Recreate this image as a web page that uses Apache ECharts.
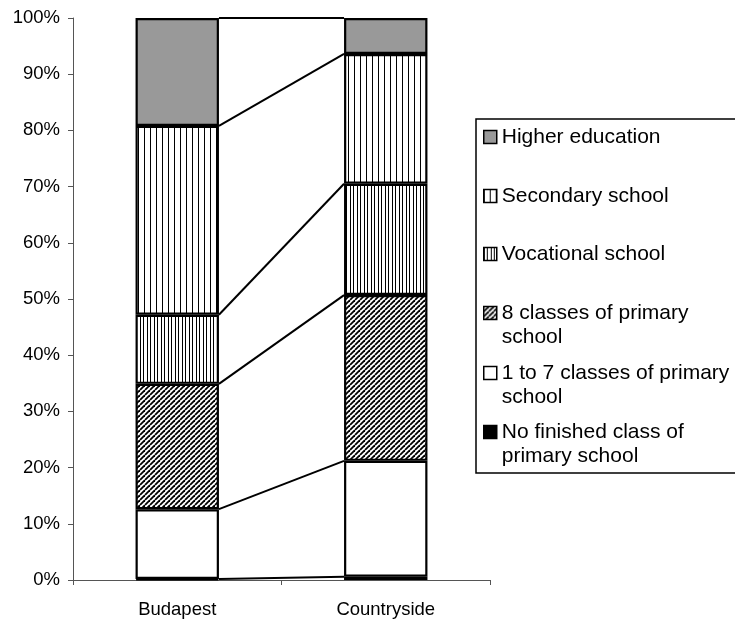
<!DOCTYPE html>
<html>
<head>
<meta charset="utf-8">
<style>
  html, body { margin: 0; padding: 0; background: #fff; }
  #chart { width: 735px; height: 621px; }
</style>
<script src="https://cdn.jsdelivr.net/npm/echarts@6/dist/echarts.min.js"></script>
</head>
<body>
<div id="chart"></div>
<script>
// Regions on the horizontal axis
const categories = ['Budapest', 'Countryside'];

// Education levels, bottom of the stack first
const levels = [
  'No finished class of primary school',
  '1 to 7 classes of primary school',
  '8 classes of primary school',
  'Vocational school',
  'Secondary school',
  'Higher education'
];

// Share of each level (%), per region
const budapestShares    = [0.2, 12.4, 22.3, 12.3, 33.6, 19.2];
const countrysideShares = [0.6, 20.6, 29.5, 19.8, 23.1, 6.4];

// Y axis ticks
const yTicks = [0, 10, 20, 30, 40, 50, 60, 70, 80, 90, 100];

// Legend labels as wrapped in the legend box
const legendLabels = {
  'Higher education': 'Higher education',
  'Secondary school': 'Secondary school',
  'Vocational school': 'Vocational school',
  '8 classes of primary school': '8 classes of primary\nschool',
  '1 to 7 classes of primary school': '1 to 7 classes of primary\nschool',
  'No finished class of primary school': 'No finished class of\nprimary school'
};

// ---- fill patterns ----
function makeCanvas(w, h, draw) {
  const c = document.createElement('canvas');
  c.width = w; c.height = h;
  const ctx = c.getContext('2d');
  ctx.fillStyle = '#fff';
  ctx.fillRect(0, 0, w, h);
  draw(ctx);
  return c;
}
const sparseVertical = makeCanvas(6, 6, ctx => {
  ctx.fillStyle = '#000';
  ctx.fillRect(0, 0, 1, 6);
});
const denseVertical = makeCanvas(7, 7, ctx => {
  ctx.fillStyle = '#000';
  ctx.fillRect(0, 0, 1, 7);
  ctx.fillRect(3, 0, 1, 7);
});
const diagonal = makeCanvas(5, 5, ctx => {
  ctx.strokeStyle = '#000';
  ctx.lineWidth = 1.8;
  for (const o of [-5, 0, 5]) {
    ctx.beginPath();
    ctx.moveTo(o, 5);
    ctx.lineTo(o + 5, 0);
    ctx.stroke();
  }
});

const fills = [
  '#000000',
  '#ffffff',
  { image: diagonal, repeat: 'repeat' },
  { image: denseVertical, repeat: 'repeat' },
  { image: sparseVertical, repeat: 'repeat' },
  '#999999'
];

// ---- stacked bars ----
const barSeries = levels.map((name, i) => ({
  name: name,
  type: 'bar',
  stack: 'total',
  barWidth: '40%',
  data: [budapestShares[i], countrysideShares[i]],
  itemStyle: { color: fills[i], borderColor: '#000', borderWidth: 2.2 },
  emphasis: { disabled: true },
  z: 2
}));

// Cumulative top of each level, used for connector lines between the columns
const connectorRows = [];
let cb = 0, cc = 0;
for (let i = 0; i < levels.length; i++) {
  cb += budapestShares[i];
  cc += countrysideShares[i];
  connectorRows.push([0, Math.min(cb, 100), Math.min(cc, 100)]);
}

const connectorSeries = {
  type: 'custom',
  name: 'connectors',
  silent: true,
  z: 5,
  encode: { x: 0, y: [1, 2] },
  data: connectorRows,
  renderItem: function (params, api) {
    const band = api.size([1, 0])[0];
    const half = band * 0.4 / 2;
    const p0 = api.coord([0, api.value(1)]);
    const p1 = api.coord([1, api.value(2)]);
    return {
      type: 'line',
      shape: { x1: p0[0] + half, y1: p0[1], x2: p1[0] - half, y2: p1[1] },
      style: { stroke: '#000', lineWidth: 2 }
    };
  }
};

// ---- legend entries (top-down order, each positioned on its own row) ----
// Two-line labels get a leading blank line so the swatch sits beside the first line.
const legendRows = [
  { name: 'Higher education', cy: 137 },
  { name: 'Secondary school', cy: 196 },
  { name: 'Vocational school', cy: 254 },
  { name: '8 classes of primary school', cy: 313 },
  { name: '1 to 7 classes of primary school', cy: 373 },
  { name: 'No finished class of primary school', cy: 432 }
];
const legends = legendRows.map(r => {
  const twoLines = legendLabels[r.name].indexOf('\n') >= 0;
  return {
    data: [r.name],
    orient: 'vertical',
    left: 483,
    top: twoLines ? r.cy - 36 : r.cy - 12,
    padding: 0,
    itemWidth: 13,
    itemHeight: 13,
    selectedMode: false,
    icon: 'rect',
    itemStyle: { borderColor: '#000', borderWidth: 1.5 },
    formatter: n => (twoLines ? '\n' : '') + legendLabels[n],
    textStyle: {
      fontFamily: 'Liberation Sans, Arial, sans-serif',
      fontSize: 21,
      color: '#000',
      lineHeight: 24
    }
  };
});

const chart = echarts.init(document.getElementById('chart'), null, { renderer: 'canvas' });
chart.setOption({
  animation: false,
  backgroundColor: '#fff',
  grid: { left: 73, right: 245, top: 18, bottom: 41, containLabel: false },
  legend: legends,
  graphic: [{
    type: 'rect',
    shape: { x: 476, y: 119, width: 270, height: 354 },
    style: { fill: 'none', stroke: '#000', lineWidth: 1.5 },
    z: 10,
    silent: true
  }],
  xAxis: {
    type: 'category',
    data: categories,
    boundaryGap: true,
    axisLine: { lineStyle: { color: '#555', width: 1 } },
    axisTick: { show: true, length: 5, inside: false, lineStyle: { color: '#555' } },
    axisLabel: {
      color: '#000',
      fontFamily: 'Liberation Sans, Arial, sans-serif',
      fontSize: 18.5,
      margin: 20
    },
    splitLine: { show: false }
  },
  yAxis: {
    type: 'value',
    min: yTicks[0],
    max: yTicks[yTicks.length - 1],
    interval: yTicks[1] - yTicks[0],
    axisLine: { show: true, lineStyle: { color: '#555', width: 1 } },
    axisTick: { show: true, length: 5, lineStyle: { color: '#555' } },
    axisLabel: {
      color: '#000',
      fontFamily: 'Liberation Sans, Arial, sans-serif',
      fontSize: 18.5,
      margin: 13,
      formatter: '{value}%'
    },
    splitLine: { show: false }
  },
  series: barSeries.concat([connectorSeries])
});
</script>
</body>
</html>
